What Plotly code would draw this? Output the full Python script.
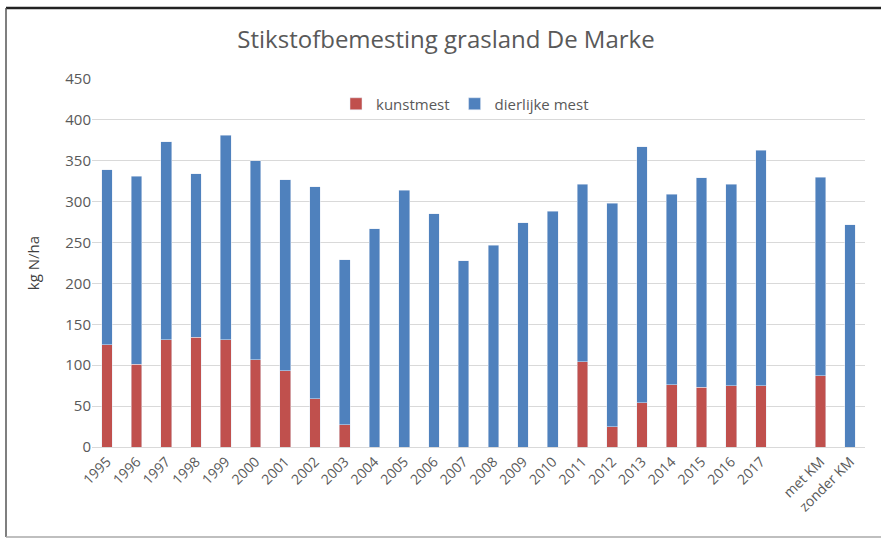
import plotly.graph_objects as go

categories = [str(y) for y in range(1995, 2018)] + ["", "met KM", "zonder KM"]
kunstmest = [125, 101, 131, 134, 131, 107, 93, 59, 27, 0, 0, 0, 0, 0, 0, 0,
             104, 25, 54, 76, 73, 75, 75, None, 87, 0]
dierlijke_mest = [214, 230, 242, 200, 250, 243, 234, 259, 202, 267, 314, 285, 228, 247, 274, 288,
                  217, 273, 313, 233, 256, 246, 288, None, 243, 272]

W, H = 881, 540
L, R, T, B = 92, 16, 79, 93
pw, ph = W - L - R, H - T - B


def px(x):
    return (x - L) / pw


def py(y):
    return (H - B - y) / ph


fig = go.Figure()
fig.add_trace(go.Bar(x=categories, y=kunstmest, name="kunstmest", marker_color="#C0504D"))
fig.add_trace(go.Bar(x=categories, y=dierlijke_mest, name="dierlijke mest", marker_color="#4F81BD"))

fig.update_layout(
    width=W, height=H,
    barmode="stack",
    bargap=0.64,
    margin=dict(l=L, r=R, t=T, b=B),
    paper_bgcolor="white",
    plot_bgcolor="white",
    font=dict(family="Open Sans", color="#595959", size=14),
    title=dict(text="Stikstofbemesting grasland De Marke", x=px(446), xanchor="center",
               xref="paper", y=1 - 40 / H, yanchor="middle", font=dict(size=24, color="#595959")),
    legend=dict(orientation="h", x=px(465), xanchor="center", y=py(104), yanchor="middle",
                font=dict(size=15, color="#595959"), bgcolor="rgba(0,0,0,0)",
                itemwidth=30, traceorder="normal"),
    xaxis=dict(type="category", tickangle=-45, showgrid=False, showline=True,
               linecolor="#D9D9D9", linewidth=1, ticks="", tickfont=dict(size=14)),
    yaxis=dict(range=[0, 450], dtick=50, showgrid=True, gridcolor="#D9D9D9",
               zeroline=False, showline=False, ticks="", ticklen=0,
               tickfont=dict(size=15),
               title=dict(text="kg N/ha", font=dict(size=15, color="#404040"), standoff=22)),
    shapes=[
        dict(type="line", xref="paper", yref="paper", x0=px(6), x1=px(W), y0=py(8), y1=py(8),
             line=dict(color="#222222", width=2.5), layer="above"),
        dict(type="line", xref="paper", yref="paper", x0=px(6), x1=px(6), y0=py(8), y1=py(537),
             line=dict(color="#555555", width=1.5)),
        dict(type="line", xref="paper", yref="paper", x0=px(6), x1=px(W), y0=py(537), y1=py(537),
             line=dict(color="#AAAAAA", width=1.5)),
    ],
)

fig.write_html("out.html", config={"displayModeBar": False},
               post_script="document.body.style.margin='0';")
